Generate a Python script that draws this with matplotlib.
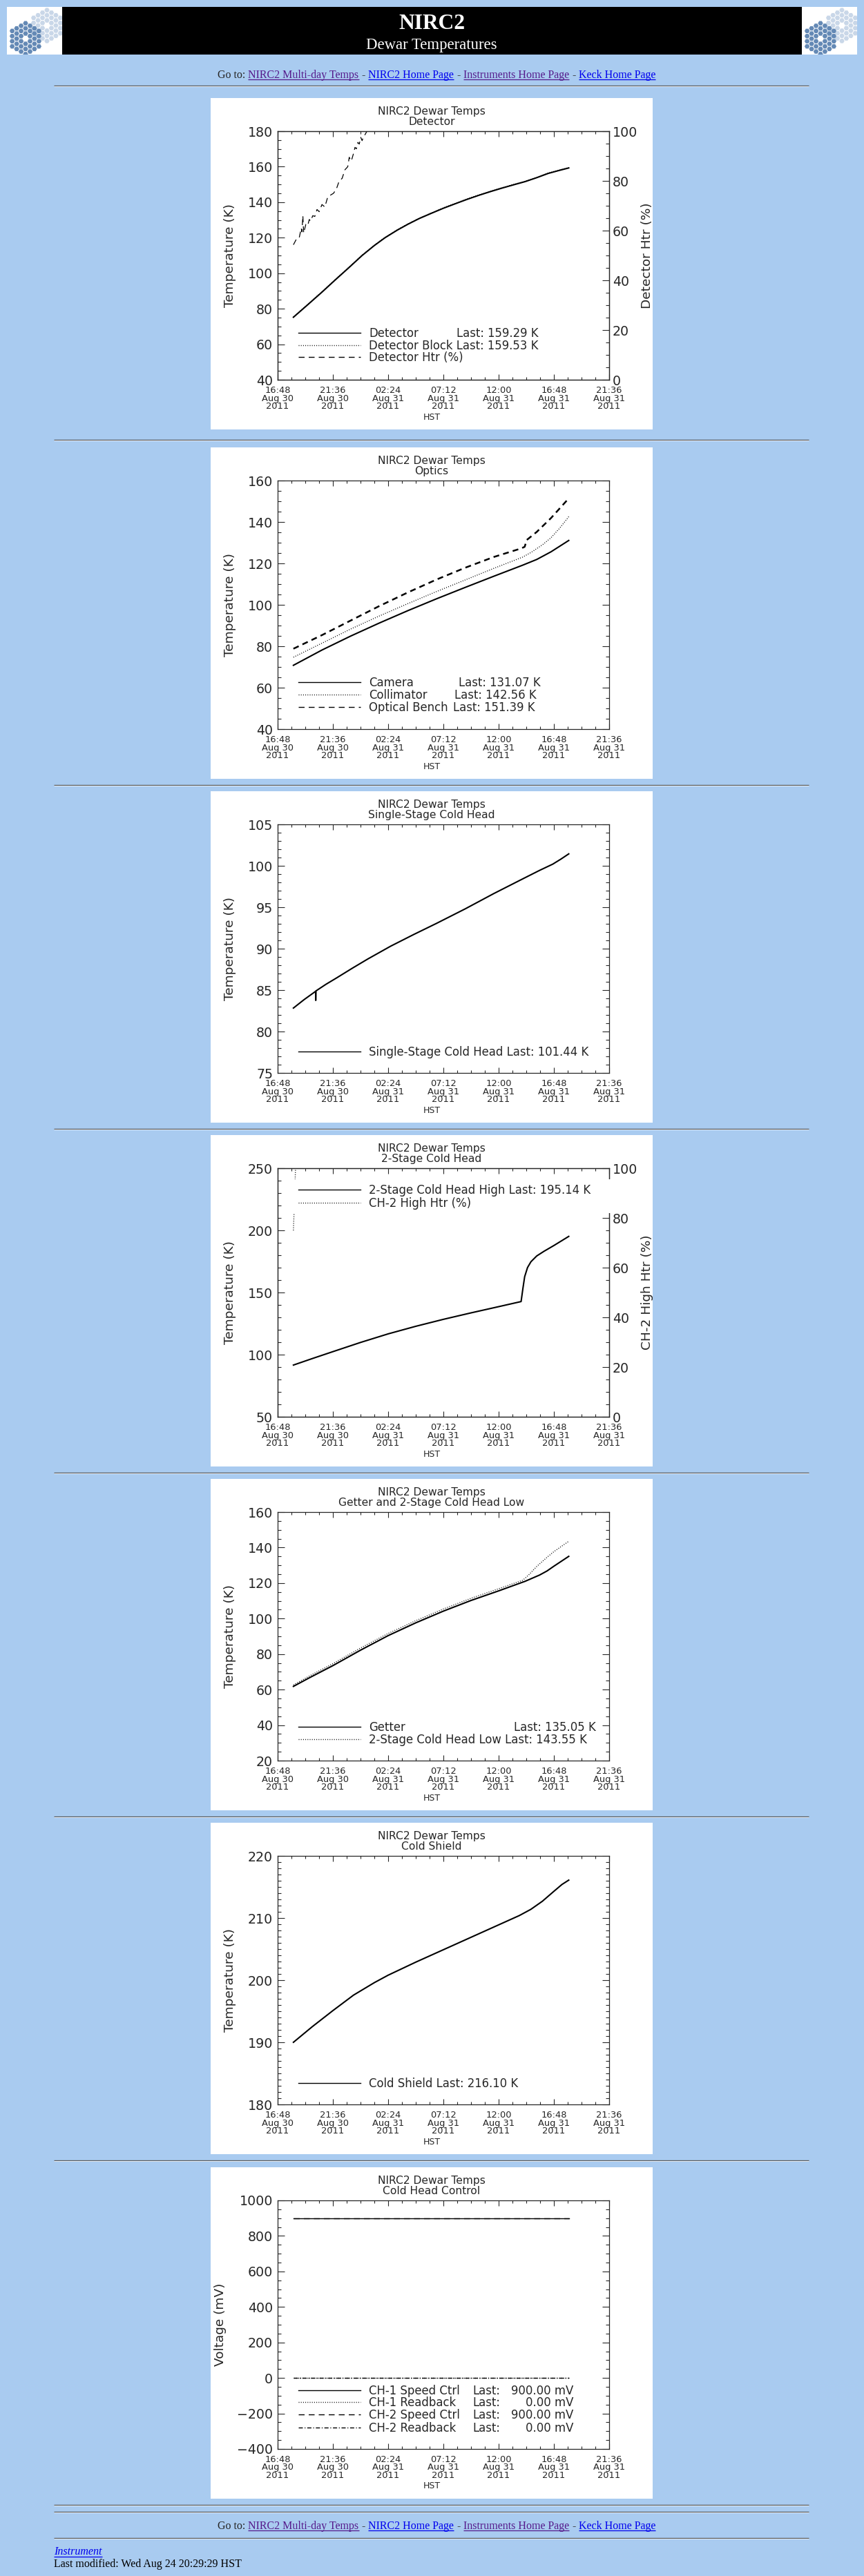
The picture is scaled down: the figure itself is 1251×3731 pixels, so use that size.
import matplotlib
matplotlib.use('Agg')
import matplotlib.pyplot as plt
from matplotlib.patches import Rectangle, RegularPolygon
from matplotlib.ticker import MultipleLocator, FixedLocator
from matplotlib.transforms import blended_transform_factory
import numpy as np

plt.rcParams['font.family'] = ['DejaVu Sans']
plt.rcParams['lines.scale_dashes'] = False

W, H, DPI = 1251, 3731, 100
PX = 72.0 / DPI
PAGE_BG = '#a9cbf0'
INK = '#262626'
LOGO_LIGHT = '#c9d7e8'
LOGO_DARK = '#6489b5'
VISITED = '#551a8b'
LINK = '#0000ee'

# ---------------- shared time axis (hours after 16:48 HST, Aug 30 2011) ----------------
x_tick_hours = [0.0, 4.8, 9.6, 14.4, 19.2, 24.0, 28.8]
x_tick_times = ['16:48', '21:36', '02:24', '07:12', '12:00', '16:48', '21:36']
x_tick_dates = ['Aug 30', 'Aug 30', 'Aug 31', 'Aug 31', 'Aug 31', 'Aug 31', 'Aug 31']
x_tick_years = ['2011'] * 7

# ---------------- panel 1: Detector ----------------
det_t = [1.37, 2.5, 3.86, 5.0, 6.2, 7.34, 8.4, 9.33, 10.4, 11.32, 12.3, 13.3, 14.4,
         15.54, 16.5, 17.53, 18.5, 19.52, 20.5, 21.5, 22.5, 23.5, 24.4, 25.29]
det_k = [75.2, 81.6, 89.4, 96.2, 103.2, 110.0, 115.6, 120.0, 124.3, 127.6, 130.8, 133.6, 136.6,
         139.4, 141.7, 144.0, 146.0, 148.0, 149.8, 151.6, 153.8, 156.2, 157.8, 159.29]
detblk_k = [75.4, 81.8, 89.6, 96.4, 103.4, 110.2, 115.8, 120.2, 124.5, 127.8, 131.0, 133.8, 136.8,
            139.6, 141.9, 144.2, 146.2, 148.2, 150.0, 151.8, 154.0, 156.4, 158.0, 159.53]
dethtr_t = [1.37, 1.62, 1.87, 2.05, 2.11, 2.19, 2.26, 2.45, 2.61, 2.75, 2.86, 3.05, 3.23, 3.42,
            3.61, 3.85, 4.10, 4.35, 4.60, 4.85, 5.10, 5.35, 5.60, 5.85, 6.09, 6.22, 6.40, 6.59,
            6.72, 6.84, 6.97, 7.09, 7.22, 7.34, 7.47, 7.59, 7.76, 7.90]
dethtr_p = [54.3, 56.5, 57.0, 61.0, 59.5, 66.0, 59.0, 62.5, 62.0, 64.5, 63.8, 66.0, 65.7, 68.5,
            67.6, 70.5, 69.5, 73.5, 74.3, 75.0, 76.7, 80.0, 81.0, 84.5, 85.7, 89.5, 88.0, 91.0,
            93.5, 92.9, 95.5, 94.8, 97.5, 96.2, 98.0, 98.6, 100.0, 102.0]

# ---------------- panel 2: Optics ----------------
cam_t = [1.37, 3.86, 6.34, 8.83, 11.32, 13.80, 16.29, 18.78, 21.27, 22.51, 23.75, 25.29]
cam_k = [70.8, 78.2, 84.9, 91.2, 97.2, 102.9, 108.4, 113.8, 119.1, 121.9, 125.6, 131.07]
col_t = [1.37, 3.86, 6.34, 8.83, 11.32, 13.80, 16.29, 18.78, 21.27, 22.02, 23.01, 23.75, 24.50, 25.29]
col_k = [74.7, 81.5, 88.3, 94.6, 100.6, 106.4, 112.0, 117.6, 123.0, 125.3, 129.0, 132.4, 137.0, 142.56]
bench_t = [1.37, 3.86, 6.34, 8.83, 11.32, 13.80, 16.29, 18.78, 21.14, 21.46, 21.64, 22.51, 23.75, 25.29]
bench_k = [78.8, 85.4, 92.4, 99.4, 106.0, 112.2, 117.9, 123.1, 127.2, 128.0, 131.3, 135.2, 141.9, 151.39]

# ---------------- panel 3: Single-Stage Cold Head ----------------
ss_t = [1.37, 2.3, 3.30, 3.31, 3.33, 4.2, 5.10, 6.5, 7.83, 9.82, 11.81, 13.80, 16.29, 18.78,
        21.26, 22.76, 23.9, 24.6, 25.29]
ss_k = [82.83, 83.85, 84.85, 83.75, 84.9, 85.7, 86.45, 87.65, 88.75, 90.3, 91.7, 93.05, 94.8, 96.65,
        98.4, 99.45, 100.2, 100.8, 101.44]

# ---------------- panel 4: 2-Stage Cold Head ----------------
ch2_t = [1.37, 3.0, 4.8, 7.2, 9.6, 12.0, 14.4, 16.8, 19.2, 21.15, 21.31, 21.46, 21.71, 22.01,
         22.51, 23.13, 24.0, 25.29]
ch2_k = [91.6, 96.8, 102.4, 109.8, 116.7, 122.8, 128.4, 133.6, 138.6, 142.7, 153.4, 162.7, 170.1, 174.8,
         179.4, 183.1, 187.8, 195.14]
ch2htr_t = [1.37, 1.44, 1.51, 1.60]
ch2htr_p = [75.0, 84.0, 94.0, 106.0]

# ---------------- panel 5: Getter and 2-Stage Cold Head Low ----------------
get_t = [1.37, 2.8, 4.8, 7.2, 9.6, 12.0, 14.4, 16.8, 19.2, 21.5, 22.75, 23.4, 24.0, 25.29]
get_k = [61.8, 66.8, 73.5, 82.2, 90.4, 97.6, 104.2, 110.2, 115.6, 121.0, 124.5, 126.8, 129.5, 135.05]
low_t = [1.37, 2.8, 4.8, 7.2, 9.6, 12.0, 14.4, 16.8, 19.2, 21.3, 21.8, 22.5, 23.4, 24.0, 25.29]
low_k = [62.6, 67.8, 74.6, 83.4, 91.6, 98.8, 105.4, 111.4, 116.8, 121.6, 124.5, 129.3, 134.5, 137.7, 143.55]

# ---------------- panel 6: Cold Shield ----------------
cs_t = [1.37, 3.0, 4.8, 6.6, 8.4, 9.6, 12.0, 14.4, 16.8, 19.2, 21.0, 22.0, 23.0, 24.0, 24.7, 25.29]
cs_k = [190.0, 192.5, 195.1, 197.6, 199.6, 200.8, 202.9, 204.9, 206.9, 208.9, 210.4, 211.4, 212.7,
        214.3, 215.4, 216.10]

# ---------------- panel 7: Cold Head Control ----------------
cc_t = [1.37, 25.29]
ch1_speed = [900.0, 900.0]
ch1_readback = [0.0, 0.0]
ch2_speed = [900.0, 900.0]
ch2_readback = [0.0, 0.0]

# ---------------- page layout ----------------
panel_tops = [142, 648, 1146, 1644, 2142, 2640, 3139]
hr_y = [124, 637, 1137, 1635, 2133, 2631, 3129, 3628, 3638, 3676]

fig = plt.figure(figsize=(W / DPI, H / DPI), dpi=DPI, facecolor=PAGE_BG)
page = fig.add_axes([0, 0, 1, 1])
page.set_xlim(0, W)
page.set_ylim(H, 0)
page.axis('off')


def frect(x, y, w, h):
    return [x / W, 1 - (y + h) / H, w / W, h / H]


def line_kw(kind, lw):
    if kind == 'solid':
        return dict(linestyle='-', linewidth=lw)
    if kind == 'dotted':
        return dict(linestyle=(0, (1.0 * PX, 2.2 * PX)), linewidth=lw)
    if kind == 'dashed':
        return dict(linestyle=(0, (8.5 * PX, 6.0 * PX)), linewidth=lw)
    if kind == 'dashdot':
        return dict(linestyle=(0, (6.0 * PX, 2.6 * PX, 1.2 * PX, 2.6 * PX)), linewidth=lw)


# ---- banner ----
page.add_patch(Rectangle((90, 10), 1071, 69, facecolor='black', edgecolor='none'))


def add_logo(x0, y0, w, h):
    bg = Rectangle((x0, y0), w, h, facecolor='white', edgecolor='none', zorder=2)
    page.add_patch(bg)
    s = 4.3
    for cx, cy, col in [(x0 + 58, y0 + 27, LOGO_LIGHT), (x0 + 27, y0 + 46, LOGO_DARK)]:
        for q in range(-3, 4):
            for r in range(-3, 4):
                if max(abs(q), abs(r), abs(q + r)) > 3 or (q == 0 and r == 0):
                    continue
                px = cx + s * 1.5 * q
                py = cy + s * np.sqrt(3) * (r + q / 2.0)
                hp = RegularPolygon((px, py), 6, radius=s * 0.86, orientation=np.pi / 6,
                                    facecolor=col, edgecolor='none', zorder=3)
                page.add_patch(hp)
                hp.set_clip_path(bg)


add_logo(10, 10, 80, 69)
add_logo(1161, 10, 80, 69)

page.text(625, 42.3, 'NIRC2', color='white', fontsize=22.7, fontweight='bold',
          family='Liberation Serif', ha='center', va='baseline')
page.text(625, 70.7, 'Dewar Temperatures', color='white', fontsize=16.4,
          family='Liberation Serif', ha='center', va='baseline')

for y in hr_y:
    page.plot([78, 1171], [y, y], color='#5c5c5c', lw=1.0, solid_capstyle='butt')
    page.plot([78, 1171], [y + 1.3, y + 1.3], color='#e6eef8', lw=0.7, solid_capstyle='butt')

renderer = fig.canvas.get_renderer()


def nav_line(x, baseline):
    parts = [('Go to:', INK, False), ('NIRC2 Multi-day Temps', VISITED, True), ('-', INK, False),
             ('NIRC2 Home Page', LINK, True), ('-', INK, False),
             ('Instruments Home Page', VISITED, True), ('-', INK, False),
             ('Keck Home Page', LINK, True)]
    for txt, col, ul in parts:
        t = page.text(x, baseline, txt, color=col, fontsize=11.5, family='Liberation Serif',
                      ha='left', va='baseline')
        w = t.get_window_extent(renderer=renderer).width
        if ul:
            page.plot([x, x + w], [baseline + 2.2, baseline + 2.2], color=col, lw=0.9,
                      solid_capstyle='butt')
        x += w + 4.2


nav_line(315, 112.7)
nav_line(315, 3662.8)

t_inst = page.text(78, 3700, 'Instrument', color=LINK, fontsize=11.5, family='Liberation Serif',
                   style='italic', ha='left', va='baseline')
w_inst = t_inst.get_window_extent(renderer=renderer).width
page.plot([78, 78 + w_inst], [3702.8, 3702.8], color=LINK, lw=0.9, solid_capstyle='butt')
page.text(78, 3718.3, 'Last modified: Wed Aug 24 20:29:29 HST', color='black', fontsize=11.5,
          family='Liberation Serif', ha='left', va='baseline')

# ---- panels ----
AX_L, AX_T, AX_W, AX_H = 97, 48, 480, 360


def make_panel(top, subtitle, ylim, ymaj, ymin, ylabel, ylabel_x, series, legend, right=None,
               legend_box=None):
    box = fig.add_axes(frect(305, top, 640, 480))
    box.set_xlim(0, 640)
    box.set_ylim(480, 0)
    box.set_facecolor('white')
    box.set_xticks([])
    box.set_yticks([])
    for sp in box.spines.values():
        sp.set_visible(False)

    ax = fig.add_axes(frect(305 + AX_L, top + AX_T, AX_W, AX_H))
    ax.set_facecolor('none')
    ax.set_xlim(0, 28.8)
    ax.set_ylim(*ylim)
    ax.xaxis.set_major_locator(FixedLocator(x_tick_hours))
    ax.xaxis.set_minor_locator(MultipleLocator(1.2))
    ax.yaxis.set_major_locator(MultipleLocator(ymaj))
    ax.yaxis.set_minor_locator(MultipleLocator(ymin))
    ax.tick_params(axis='both', which='both', direction='in', color=INK, width=0.8,
                   top=True, right=(right is None), labelbottom=False)
    ax.tick_params(axis='y', which='major', pad=5, labelsize=13.7, labelcolor=INK, length=7.2)
    ax.tick_params(axis='y', which='minor', length=3.6)
    ax.tick_params(axis='x', which='major', length=5.8)
    ax.tick_params(axis='x', which='minor', length=2.9)
    for sp in ax.spines.values():
        sp.set_linewidth(0.9)
        sp.set_color(INK)

    ax2 = None
    if right is not None:
        ax2 = ax.twinx()
        ax2.set_ylim(0, 100)
        ax2.yaxis.set_major_locator(MultipleLocator(20))
        ax2.yaxis.set_minor_locator(MultipleLocator(5))
        ax2.tick_params(axis='y', which='both', direction='in', color=INK, width=0.8,
                        right=True, left=False, labelsize=13.7, labelcolor=INK, pad=3.5)
        ax2.tick_params(axis='y', which='major', length=7.2)
        ax2.tick_params(axis='y', which='minor', length=3.6)
        for sp in ax2.spines.values():
            sp.set_linewidth(0.9)
            sp.set_color(INK)

    for t, v, kind, lw, on_right in series:
        target = ax2 if on_right else ax
        target.plot(t, v, color='black', **line_kw(kind, lw))

    # titles, x labels
    box.text(320, 24.2, 'NIRC2 Dewar Temps', ha='center', va='baseline', fontsize=11.2, color=INK)
    box.text(320, 38.7, subtitle, ha='center', va='baseline', fontsize=11.2, color=INK)
    trans = blended_transform_factory(ax.transData, box.transData)
    for xh, a, b, c in zip(x_tick_hours, x_tick_times, x_tick_dates, x_tick_years):
        for yb, s in zip([427.0, 438.5, 450.3], [a, b, c]):
            box.text(xh, yb, s, transform=trans, ha='center', va='baseline', fontsize=9.4,
                     color=INK)
    box.text(320, 465.5, 'HST', ha='center', va='baseline', fontsize=9.0, color=INK)
    box.text(ylabel_x, 228, ylabel, rotation=90, ha='center', va='center', fontsize=13.3,
             color=INK)

    ov = fig.add_axes(frect(305, top, 640, 480))
    ov.set_xlim(0, 640)
    ov.set_ylim(480, 0)
    ov.axis('off')
    if right is not None:
        ov.text(623, 228, right, rotation=90, ha='left', va='center', fontsize=13.3,
                color=INK, clip_on=True)
    if legend_box is not None:
        bx, by, bw, bh = legend_box
        ov.add_patch(Rectangle((bx, by), bw, bh, facecolor='white', edgecolor='none'))
    for row in legend:
        ry, kind, name, last, last_x, val, val_x = row
        ov.plot([127, 217], [ry, ry], color='black', **line_kw(kind, 1.0))
        ov.text(229, ry + 6.0, name, ha='left', va='baseline', fontsize=11.9, color=INK)
        if last is not None:
            ov.text(last_x, ry + 6.0, last, ha='left', va='baseline', fontsize=11.9, color=INK)
        if val is not None:
            ov.text(val_x, ry + 6.0, val, ha='right', va='baseline', fontsize=11.9, color=INK)
    return ax


make_panel(panel_tops[0], 'Detector', (40, 180), 20, 5, 'Temperature (K)', 28.5,
           [(det_t, detblk_k, 'dotted', 1.0, False),
            (det_t, det_k, 'solid', 1.5, False),
            (dethtr_t, dethtr_p, 'dashed', 0.9, True)],
           [(340.0, 'solid', 'Detector', 'Last: 159.29 K', 355.6, None, None),
            (357.5, 'dotted', 'Detector Block Last: 159.53 K', None, None, None, None),
            (375.0, 'dashed', 'Detector Htr (%)', None, None, None, None)],
           right='Detector Htr (%)')

make_panel(panel_tops[1], 'Optics', (40, 160), 20, 5, 'Temperature (K)', 28.5,
           [(cam_t, cam_k, 'solid', 1.5, False),
            (col_t, col_k, 'dotted', 1.0, False),
            (bench_t, bench_k, 'dashed', 1.8, False)],
           [(340.3, 'solid', 'Camera', 'Last: 131.07 K', 359.0, None, None),
            (358.0, 'dotted', 'Collimator', 'Last: 142.56 K', 353.5, None, None),
            (376.0, 'dashed', 'Optical Bench', 'Last: 151.39 K', 350.6, None, None)])

make_panel(panel_tops[2], 'Single-Stage Cold Head', (75, 105), 5, 1, 'Temperature (K)', 28.5,
           [(ss_t, ss_k, 'solid', 1.5, False)],
           [(376.8, 'solid', 'Single-Stage Cold Head Last: 101.44 K', None, None, None, None)])

make_panel(panel_tops[3], '2-Stage Cold Head', (50, 250), 50, 10, 'Temperature (K)', 28.5,
           [(ch2_t, ch2_k, 'solid', 1.5, False),
            (ch2htr_t, ch2htr_p, 'dotted', 1.0, True)],
           [(79.3, 'solid', '2-Stage Cold Head High Last: 195.14 K', None, None, None, None),
            (97.7, 'dotted', 'CH-2 High Htr (%)', None, None, None, None)],
           right='CH-2 High Htr (%)', legend_box=(119, 64, 463, 49))

make_panel(panel_tops[4], 'Getter and 2-Stage Cold Head Low', (20, 160), 20, 5,
           'Temperature (K)', 28.5,
           [(get_t, get_k, 'solid', 1.5, False),
            (low_t, low_k, 'dotted', 1.0, False)],
           [(358.7, 'solid', 'Getter', 'Last: 135.05 K', 438.5, None, None),
            (377.0, 'dotted', '2-Stage Cold Head Low Last: 143.55 K', None, None, None, None)])

make_panel(panel_tops[5], 'Cold Shield', (180, 220), 10, 1, 'Temperature (K)', 28.5,
           [(cs_t, cs_k, 'solid', 1.5, False)],
           [(376.6, 'solid', 'Cold Shield Last: 216.10 K', None, None, None, None)])

make_panel(panel_tops[6], 'Cold Head Control', (-400, 1000), 200, 50, 'Voltage (mV)', 14.0,
           [(cc_t, ch1_speed, 'solid', 1.0, False),
            (cc_t, ch1_readback, 'dotted', 1.0, False),
            (cc_t, ch2_speed, 'dashed', 1.0, False),
            (cc_t, ch2_readback, 'dashdot', 1.0, False)],
           [(322.6, 'solid', 'CH-1 Speed Ctrl', 'Last:', 379.7, '900.00 mV', 525.6),
            (340.3, 'dotted', 'CH-1 Readback', 'Last:', 379.7, '0.00 mV', 525.6),
            (358.3, 'dashed', 'CH-2 Speed Ctrl', 'Last:', 379.7, '900.00 mV', 525.6),
            (376.7, 'dashdot', 'CH-2 Readback', 'Last:', 379.7, '0.00 mV', 525.6)])

fig.savefig('out.png', dpi=DPI, facecolor=PAGE_BG)
